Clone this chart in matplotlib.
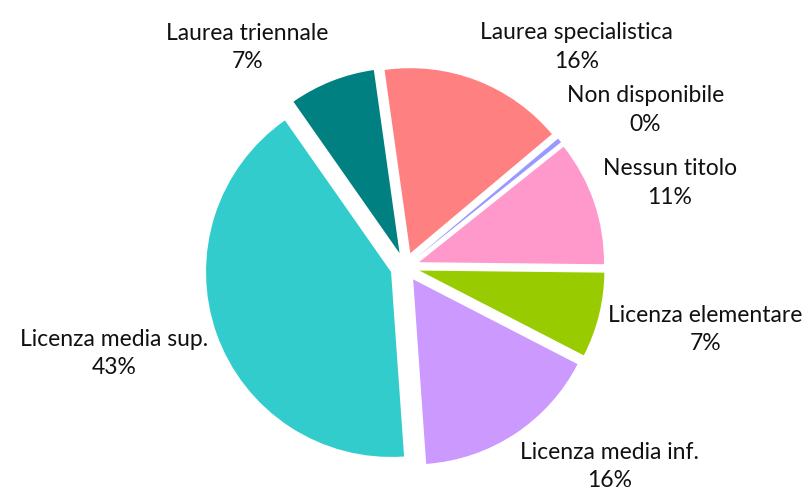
import numpy as np
import matplotlib
matplotlib.use("Agg")
import matplotlib.pyplot as plt

# Slice data (clockwise from the top)
categories = ["Laurea specialistica", "Non disponibile", "Nessun titolo",
              "Licenza elementare", "Licenza media inf.", "Licenza media sup.",
              "Laurea triennale"]
shares = [16.1, 0.4, 10.9, 7.4, 16.3, 41.4, 7.5]
pct_text = ["16%", "0%", "11%", "7%", "16%", "43%", "7%"]
colors = ["#FF8080", "#9999FF", "#FF99CC", "#99CC00", "#CC99FF", "#33CCCC", "#008080"]

plt.rcParams['font.family'] = ['Lato', 'DejaVu Sans']

W, H = 809, 496
fig = plt.figure(figsize=(W / 100, H / 100), dpi=100)
ax = fig.add_axes([0, 0, 1, 1])

explode = 0.08
wedges, _ = ax.pie(shares, colors=colors, startangle=98, counterclock=False,
                   explode=[explode] * len(shares),
                   wedgeprops=dict(linewidth=0))

# pie radius 185 px, centred at (405, 267) from the top-left
r_px = 185.0
cx, cy = 405.0, H - 267.0
ax.set_aspect('auto')
ax.set_xlim(-cx / r_px, (W - cx) / r_px)
ax.set_ylim(-cy / r_px, (H - cy) / r_px)
ax.axis('off')

# Excel-like outside labels: box hugs an anchor just outside each slice
renderer = fig.canvas.get_renderer()
label_r = 1 + explode + 0.05
for w, name, pct in zip(wedges, categories, pct_text):
    mid = np.deg2rad((w.theta1 + w.theta2) / 2)
    ax_, ay_ = label_r * np.cos(mid), label_r * np.sin(mid)
    t = ax.text(ax_, ay_, name + "\n" + pct, ha='center', va='center',
                multialignment='center', fontsize=16.5, color='#111111',
                linespacing=1.45)
    bb = t.get_window_extent(renderer=renderer)
    fx = np.clip(np.cos(mid) * 3, -1, 1)
    fy = np.clip(np.sin(mid) * 2, -1, 1)
    t.set_position((ax_ + bb.width / 2 * fx / r_px, ay_ + bb.height / 2 * fy / r_px))

fig.savefig("out.png", dpi=100, facecolor='white')
